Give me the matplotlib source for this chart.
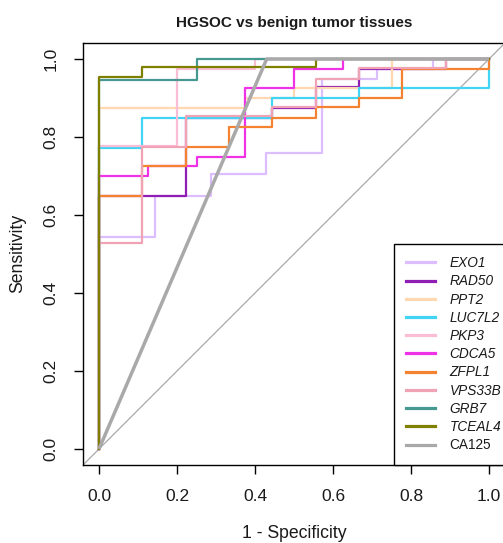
import matplotlib
matplotlib.use("Agg")
import matplotlib.pyplot as plt
from matplotlib.lines import Line2D

plt.rcParams['font.family'] = ['Liberation Sans', 'DejaVu Sans']

# ---- data (ROC points: 1 - specificity, sensitivity) ----
genes = ["EXO1", "RAD50", "PPT2", "LUC7L2", "PKP3", "CDCA5", "ZFPL1",
         "VPS33B", "GRB7", "TCEAL4", "CA125"]
colors = ["#DCBEFF", "#911EB4", "#FFD8B1", "#42D4F4", "#FBBCD6", "#F032E6",
          "#F58231", "#F0A3B4", "#469990", "#808000", "#A9A9A9"]

exo1_fpr = [0, 0, 0.143, 0.286, 0.429, 0.571, 0.714, 0.857, 1]
exo1_tpr = [0, 0.543, 0.650, 0.704, 0.758, 0.948, 0.974, 1.0, 1.0]
rad50_fpr = [0, 0, 0.222, 0.444, 0.556, 0.667, 0.889, 1]
rad50_tpr = [0, 0.650, 0.850, 0.875, 0.929, 0.975, 1.0, 1.0]
ppt2_fpr = [0, 0, 0.375, 0.5, 0.75, 1]
ppt2_tpr = [0, 0.875, 0.900, 0.925, 1.0, 1.0]
luc7l2_fpr = [0, 0, 0.111, 0.444, 0.667, 1]
luc7l2_tpr = [0, 0.772, 0.849, 0.899, 0.926, 1.0]
pkp3_fpr = [0, 0, 0.2, 0.4, 1]
pkp3_tpr = [0, 0.777, 0.975, 1.0, 1.0]
cdca5_fpr = [0, 0, 0.125, 0.25, 0.375, 0.5, 0.625, 1]
cdca5_tpr = [0, 0.700, 0.725, 0.750, 0.925, 0.975, 1.0, 1.0]
zfpl1_fpr = [0, 0, 0.111, 0.222, 0.333, 0.444, 0.556, 0.667, 0.778, 1]
zfpl1_tpr = [0, 0.650, 0.725, 0.775, 0.825, 0.850, 0.876, 0.900, 0.975, 1.0]
vps33b_fpr = [0, 0, 0.111, 0.222, 0.444, 0.556, 0.667, 0.889, 1]
vps33b_tpr = [0, 0.527, 0.775, 0.853, 0.876, 0.950, 0.976, 1.0, 1.0]
grb7_fpr = [0, 0, 0.25, 1]
grb7_tpr = [0, 0.947, 1.0, 1.0]
tceal4_fpr = [0, 0, 0.111, 0.556, 1]
tceal4_tpr = [0, 0.953, 0.979, 1.0, 1.0]
ca125_fpr = [0, 0.43, 1]
ca125_tpr = [0, 1.0, 1.0]

curves = [(exo1_fpr, exo1_tpr), (rad50_fpr, rad50_tpr), (ppt2_fpr, ppt2_tpr),
          (luc7l2_fpr, luc7l2_tpr), (pkp3_fpr, pkp3_tpr), (cdca5_fpr, cdca5_tpr),
          (zfpl1_fpr, zfpl1_tpr), (vps33b_fpr, vps33b_tpr), (grb7_fpr, grb7_tpr),
          (tceal4_fpr, tceal4_tpr), (ca125_fpr, ca125_tpr)]

ticks = [0.0, 0.2, 0.4, 0.6, 0.8, 1.0]
tick_labels = ["0.0", "0.2", "0.4", "0.6", "0.8", "1.0"]

W, H = 503, 543
fig = plt.figure(figsize=(W / 100, H / 100), dpi=100)
ax = fig.add_axes([83.4 / W, (H - 464.6) / H, 421.2 / W, 421.2 / H])
ax.set_xlim(-0.04, 1.04)
ax.set_ylim(-0.04, 1.04)

ax.axline((0, 0), (1, 1), color="#A9A9A9", lw=0.9, zorder=1)

for name, col, (fx, ty) in zip(genes, colors, curves):
    if name == "CA125":
        ax.plot(fx, ty, color=col, lw=2.5, zorder=3, solid_capstyle='butt')
    else:
        ax.plot(fx, ty, color=col, lw=1.6, drawstyle='steps-post', zorder=2)

ax.set_xticks(ticks)
ax.set_xticklabels(tick_labels)
ax.set_yticks(ticks)
ax.set_yticklabels(tick_labels)
ax.tick_params(axis='both', direction='out', length=6.5, width=1.0,
               labelsize=12.5, pad=11.4, color='black', labelcolor='#1a1a1a')
plt.setp(ax.get_yticklabels(), rotation=90, va='center', ha='right')
for s in ax.spines.values():
    s.set_linewidth(1.0)
    s.set_color('black')

fig.text(294 / W, 1 - 26.5 / H, "HGSOC vs benign tumor tissues", ha='center',
         va='baseline', fontsize=11, fontweight='bold', color='#1a1a1a')
fig.text(294 / W, 1 - 538.5 / H, "1 - Specificity", ha='center', va='baseline',
         fontsize=12.7, color='#1a1a1a')
fig.text(18 / W, 1 - 253.5 / H, "Sensitivity", ha='center', va='center',
         rotation=90, fontsize=12.7, color='#1a1a1a')

handles = [Line2D([], [], color=c, lw=2.3) for c in colors]
leg = ax.legend(handles, genes, loc='lower left',
                bbox_to_anchor=((394 - 83.4) / 421.2, 0.0), borderaxespad=0,
                frameon=True, fancybox=False, edgecolor='black', framealpha=1,
                fontsize=9.8, handlelength=2.13, handletextpad=1.05,
                borderpad=0.9, labelspacing=0.31)
leg.get_frame().set_linewidth(1.0)
for t, g in zip(leg.get_texts(), genes):
    t.set_color('#1a1a1a')
    if g != "CA125":
        t.set_fontstyle('italic')

fig.savefig("out.png", dpi=100)
